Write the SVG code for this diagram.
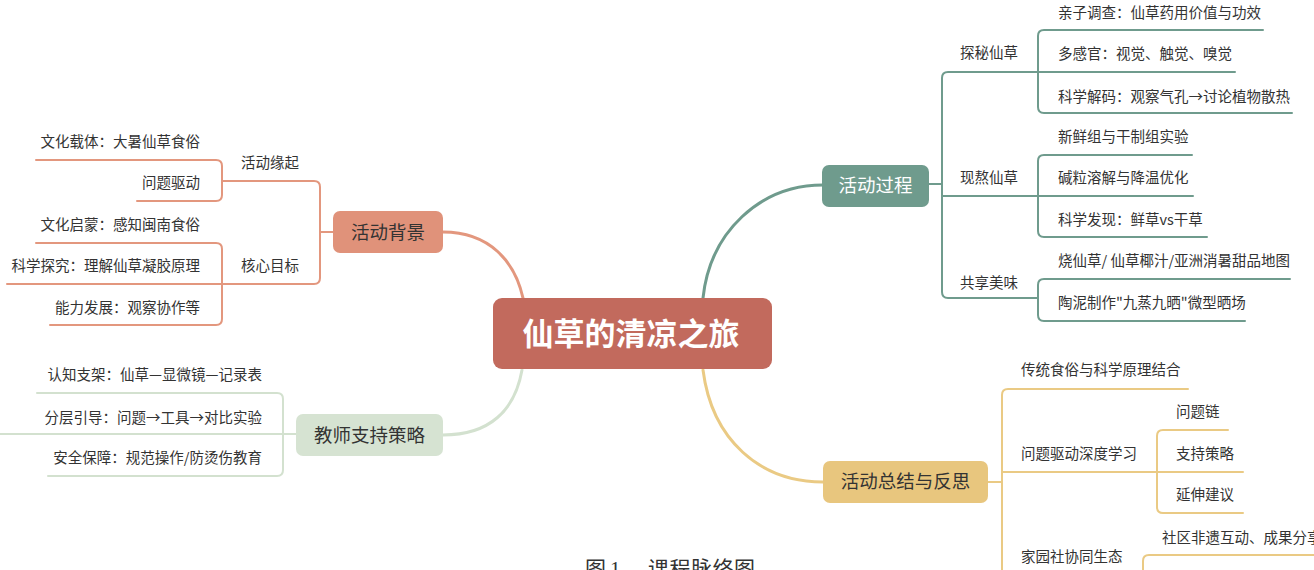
<svg xmlns="http://www.w3.org/2000/svg" width="1314" height="570" viewBox="0 0 1314 570">
<style>
text{font-family:"Noto Sans CJK SC","Liberation Sans",sans-serif;fill:#333;}
.leaf{font-size:14.5px;}
.end{text-anchor:end;}
.mid{text-anchor:middle;}
.main{font-size:18.5px;}
.ln{fill:none;stroke-width:2;stroke-linecap:round;stroke-linejoin:round;}
.cn{fill:none;stroke-width:3;stroke-linecap:round;}
.o{stroke:#E3977E;}
.t{stroke:#6F9B8D;}
.g{stroke:#D3E1CF;}
.y{stroke:#EACA84;}
.cap{font-family:"Liberation Serif","Noto Sans CJK SC",serif;font-size:21px;fill:#333;}
</style>
<rect width="1314" height="570" fill="#ffffff"/>
<g id="connectors">
  <path class="cn o" d="M443,232 C490,232 515,262 523,298"/>
  <path class="cn g" d="M522,370 C515,410 490,435 443,435"/>
  <path class="cn t" d="M703,298 C710,232 760,185 823,185"/>
  <path class="cn y" d="M703,370 C712,440 760,482 823,482"/>
  <path class="ln o" d="M333,232 H320"/>
  <path class="ln o" d="M222,181 H314 Q320,181 320,187 V278 Q320,284 314,284 H7"/>
  <path class="ln o" d="M36,160 H216 Q222,160 222,166 V195 Q222,201 216,201 H137"/>
  <path class="ln o" d="M36,243 H216 Q222,243 222,249 V319 Q222,325 216,325 H50"/>
  <path class="ln g" d="M37,393 H277 Q283,393 283,399 V470 Q283,476 277,476 H48"/>
  <path class="ln g" d="M0,434 H296"/>
  <path class="ln t" d="M929,184 H942"/>
  <path class="ln t" d="M1235,72 H948 Q942,72 942,78 V292 Q942,298 948,298 H1038"/>
  <path class="ln t" d="M942,196 H1193"/>
  <path class="ln t" d="M1263,30 H1044 Q1038,30 1038,36 V107 Q1038,113 1044,113 H1292"/>
  <path class="ln t" d="M1192,155 H1044 Q1038,155 1038,161 V231 Q1038,237 1044,237 H1207"/>
  <path class="ln t" d="M1290,279 H1044 Q1038,279 1038,285 V315 Q1038,321 1044,321 H1245"/>
  <path class="ln y" d="M988,482 H1002"/>
  <path class="ln y" d="M1188,389 H1008 Q1002,389 1002,395 V572"/>
  <path class="ln y" d="M1002,472 H1243"/>
  <path class="ln y" d="M1228,430 H1163 Q1157,430 1157,436 V507 Q1157,513 1163,513 H1243"/>
  <path class="ln y" d="M1316,555 H1149 Q1143,555 1143,561 V572"/>
</g>
<g id="root">
  <rect x="493" y="298" width="279" height="71" rx="9" fill="#C26A5D"/>
  <text x="631" y="345" class="mid" style="font-size:31px;font-weight:bold;fill:#ffffff">仙草的清凉之旅</text>
</g>
<g id="n-background">
  <rect x="333" y="211" width="110" height="42" rx="7" fill="#E0927A"/>
  <text x="388" y="239" class="mid main">活动背景</text>
</g>
<g id="n-origin"><text x="241" y="168" class="leaf">活动缘起</text></g>
<g id="n-origin-1"><text x="200" y="147" class="leaf end">文化载体：大暑仙草食俗</text></g>
<g id="n-origin-2"><text x="200" y="188" class="leaf end">问题驱动</text></g>
<g id="n-goal"><text x="241" y="271" class="leaf">核心目标</text></g>
<g id="n-goal-1"><text x="200" y="230" class="leaf end">文化启蒙：感知闽南食俗</text></g>
<g id="n-goal-2"><text x="200" y="271" class="leaf end">科学探究：理解仙草凝胶原理</text></g>
<g id="n-goal-3"><text x="200" y="313" class="leaf end">能力发展：观察协作等</text></g>
<g id="n-teacher">
  <rect x="296" y="414" width="147" height="42" rx="7" fill="#D6E3D2"/>
  <text x="369.5" y="442" class="mid main">教师支持策略</text>
</g>
<g id="n-teacher-1"><text x="262" y="380" class="leaf end">认知支架：仙草—显微镜—记录表</text></g>
<g id="n-teacher-2"><text x="262" y="423" class="leaf end">分层引导：问题→工具→对比实验</text></g>
<g id="n-teacher-3"><text x="262" y="463" class="leaf end">安全保障：规范操作/防烫伤教育</text></g>
<g id="n-process">
  <rect x="822" y="165" width="107" height="42" rx="7" fill="#6F9B8D"/>
  <text x="875.5" y="192" class="mid main" style="fill:#ffffff">活动过程</text>
</g>
<g id="n-explore"><text x="960" y="58" class="leaf">探秘仙草</text></g>
<g id="n-explore-1"><text x="1058" y="18" class="leaf">亲子调查：仙草药用价值与功效</text></g>
<g id="n-explore-2"><text x="1058" y="59" class="leaf">多感官：视觉、触觉、嗅觉</text></g>
<g id="n-explore-3"><text x="1058" y="102" class="leaf">科学解码：观察气孔→讨论植物散热</text></g>
<g id="n-cook"><text x="960" y="183" class="leaf">现熬仙草</text></g>
<g id="n-cook-1"><text x="1058" y="142" class="leaf">新鲜组与干制组实验</text></g>
<g id="n-cook-2"><text x="1058" y="183" class="leaf">碱粒溶解与降温优化</text></g>
<g id="n-cook-3"><text x="1058" y="225" class="leaf">科学发现：鲜草vs干草</text></g>
<g id="n-share"><text x="960" y="288" class="leaf">共享美味</text></g>
<g id="n-share-1"><text x="1058" y="266" class="leaf">烧仙草/ 仙草椰汁/亚洲消暑甜品地图</text></g>
<g id="n-share-2"><text x="1058" y="308" class="leaf">陶泥制作"九蒸九晒"微型晒场</text></g>
<g id="n-summary">
  <rect x="823" y="461" width="165" height="42" rx="7" fill="#E8C67E"/>
  <text x="905.5" y="488" class="mid main">活动总结与反思</text>
</g>
<g id="n-sum-1"><text x="1021" y="375" class="leaf">传统食俗与科学原理结合</text></g>
<g id="n-sum-2"><text x="1021" y="459" class="leaf">问题驱动深度学习</text></g>
<g id="n-sum-2-1"><text x="1176" y="417" class="leaf">问题链</text></g>
<g id="n-sum-2-2"><text x="1176" y="459" class="leaf">支持策略</text></g>
<g id="n-sum-2-3"><text x="1176" y="500" class="leaf">延伸建议</text></g>
<g id="n-sum-3"><text x="1021" y="562" class="leaf">家园社协同生态</text></g>
<g id="n-sum-3-1"><text x="1162" y="543" class="leaf">社区非遗互动、成果分享</text></g>
<g id="caption"><text y="576" class="cap"><tspan x="585">图</tspan><tspan x="610">1</tspan><tspan x="648" style="letter-spacing:0.5px">课程脉络图</tspan></text></g>
</svg>
